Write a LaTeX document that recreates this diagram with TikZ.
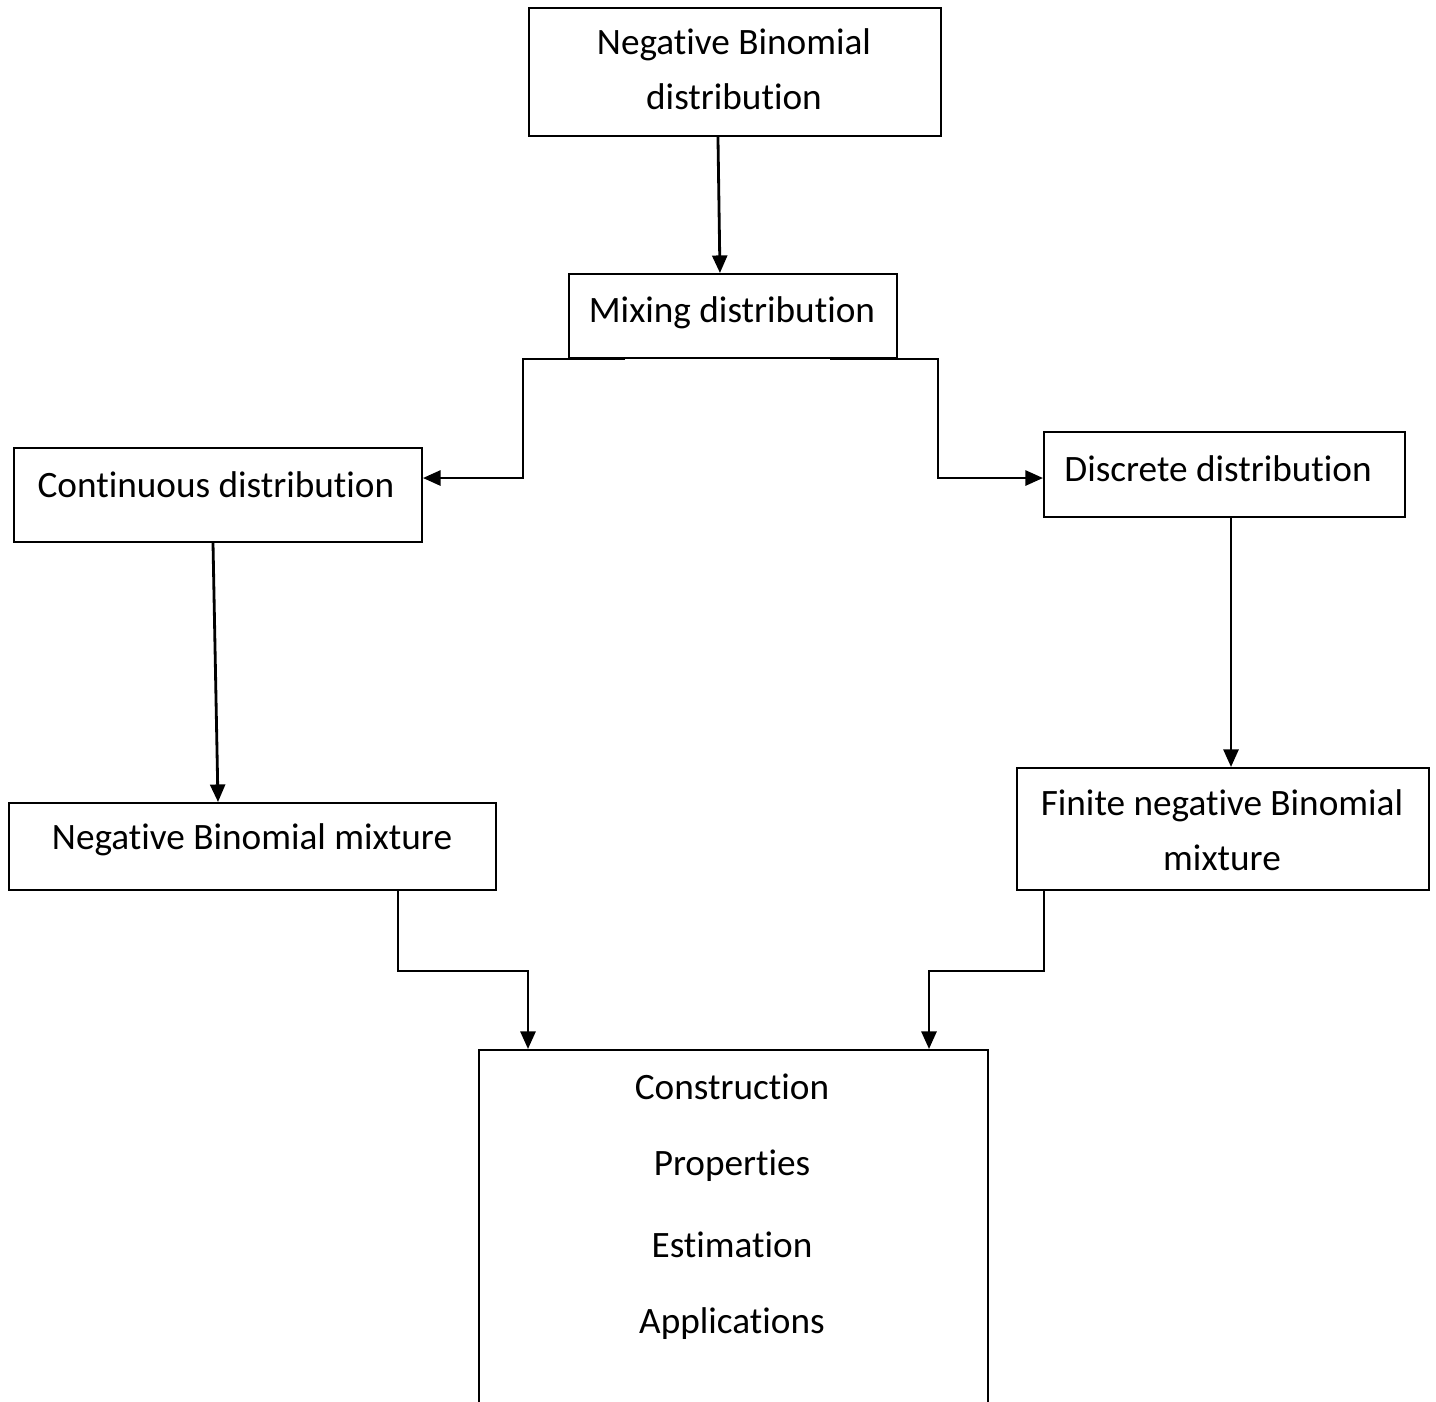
\documentclass[tikz,border=0pt]{standalone}
\usepackage{fontspec}
\setmainfont[Ligatures={NoCommon}]{Carlito}
\usetikzlibrary{arrows.meta,calc}
\begin{document}
\begin{tikzpicture}[x=0.02cm,y=-0.02cm,
  box/.style={draw,line width=1.1pt,rectangle,inner sep=0pt,anchor=north west},
  lbl/.style={font=\fontsize{21.2}{25}\selectfont,inner sep=0pt,anchor=center},
  arr/.style={line width=1.6pt,-{Triangle[length=10pt,width=8.5pt]}}]
\clip (0,0) rectangle (1436,1401);
\fill[white] (0,0) rectangle (1436,1401);
% boxes
\node[box,minimum width=412*0.02cm,minimum height=128*0.02cm] (A) at (528,7) {};
\node[box,minimum width=328*0.02cm,minimum height=84*0.02cm] (B) at (568,273) {};
\node[box,minimum width=408*0.02cm,minimum height=94*0.02cm] (C) at (13,447) {};
\node[box,minimum width=361*0.02cm,minimum height=85*0.02cm] (D) at (1043,431) {};
\node[box,minimum width=487*0.02cm,minimum height=87*0.02cm] (E) at (8,802) {};
\node[box,minimum width=412*0.02cm,minimum height=122*0.02cm] (F) at (1016,767) {};
\node[box,minimum width=509*0.02cm,minimum height=420*0.02cm] (G) at (478,1049) {};
% texts
\node[lbl] (tA1) at (734,45) {Negative Binomial};
\node[lbl] (tA2) at (734,97) {distribution};
\node[lbl] (tB) at (732,313) {Mixing distribution};
\node[lbl] (tC) at (216,485) {Continuous distribution};
\node[lbl] (tD) at (1218,469) {Discrete distribution};
\node[lbl] (tE) at (252,840) {Negative Binomial mixture};
\node[lbl] (tF1) at (1222,806) {Finite negative Binomial};
\node[lbl] (tF2) at (1222,858) {mixture};
\node[lbl] (tG1) at (732,1087) {Construction};
\node[lbl] (tG2) at (732,1166) {Properties};
\node[lbl] (tG3) at (732,1245) {Estimation};
\node[lbl] (tG4) at (732,1324) {Applications};
% connectors
\draw[arr] ([xshift=-17*0.02cm]A.south) -- ([xshift=-13*0.02cm]B.north);
\draw[arr] ([xshift=57*0.02cm]B.south west) -- ([xshift=-45*0.02cm]B.south west) |- (C.east |- 0,478);
\draw[arr] ([xshift=-68*0.02cm]B.south east) -- ([xshift=40*0.02cm]B.south east) |- (D.west |- 0,478);
\draw[arr] ([xshift=200*0.02cm]C.south west) -- ([xshift=210*0.02cm]E.north west);
\draw[arr] ([xshift=188*0.02cm]D.south west) -- ([xshift=215*0.02cm]F.north west);
\draw[arr] ([xshift=-99*0.02cm]E.south east) -- ++(0,80) -| ([xshift=50*0.02cm]G.north west);
\draw[arr] ([xshift=28*0.02cm]F.south west) -- ++(0,80) -| ([xshift=451*0.02cm]G.north west);
\end{tikzpicture}
\end{document}
